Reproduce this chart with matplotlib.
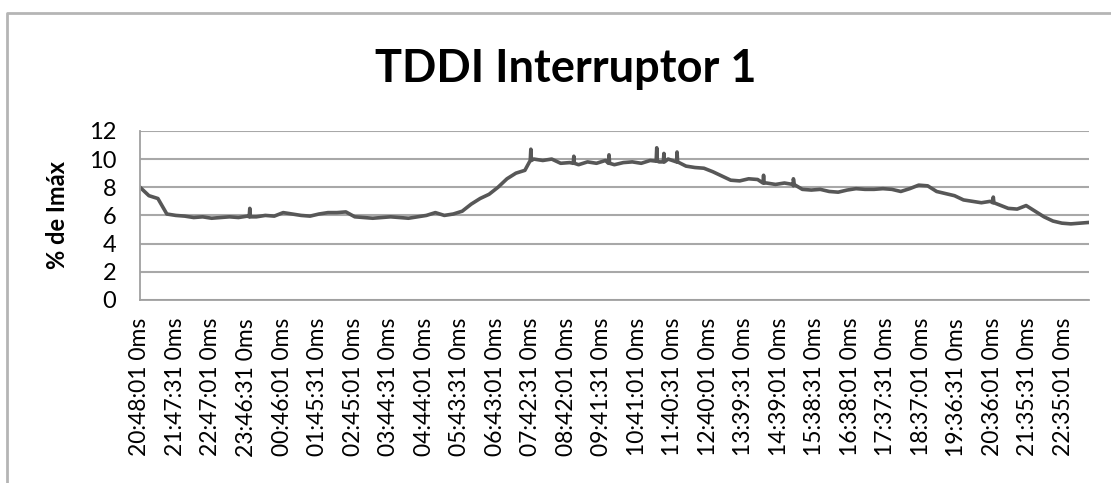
import matplotlib
matplotlib.use("Agg")
import matplotlib.pyplot as plt
from matplotlib.lines import Line2D
import numpy as np

# Serie: un valor cada 15 minutos desde 20:48:01
paso_min = 15
valores = [
    8.0, 7.4, 7.2, 6.1, 6.0, 5.95, 5.85, 5.9, 5.8, 5.85,
    5.9, 5.85, 5.95, 5.9, 6.0, 5.95, 6.2, 6.1, 6.0, 5.95,
    6.1, 6.2, 6.2, 6.25, 5.9, 5.85, 5.8, 5.85, 5.9, 5.85,
    5.8, 5.9, 6.0, 6.2, 6.0, 6.1, 6.3, 6.8, 7.2, 7.5,
    8.0, 8.6, 9.0, 9.2, 10.0, 9.9, 10.0, 9.7, 9.75, 9.6,
    9.8, 9.7, 9.9, 9.6, 9.75, 9.8, 9.7, 9.9, 9.8, 10.0,
    9.8, 9.5, 9.4, 9.35, 9.1, 8.8, 8.5, 8.45, 8.6, 8.55,
    8.3, 8.2, 8.3, 8.1, 7.85, 7.8, 7.85, 7.7, 7.65, 7.8,
    7.9, 7.85, 7.85, 7.9, 7.85, 7.7, 7.9, 8.15, 8.1, 7.7,
    7.55, 7.4, 7.1, 7.0, 6.9, 7.0, 6.75, 6.5, 6.45, 6.7,
    6.3, 5.9, 5.6, 5.45, 5.4, 5.45, 5.5,
]
# picos estrechos visibles: minuto, valor de base, valor del pico
picos_t = [184, 655, 727, 786, 866, 878, 900, 1045, 1095, 1430]
picos_base = [5.9, 9.9, 9.7, 9.7, 9.85, 9.8, 9.8, 8.3, 8.2, 6.9]
picos_v = [6.5, 10.7, 10.2, 10.3, 10.8, 10.4, 10.5, 8.85, 8.6, 7.3]

etiquetas = [
    "20:48:01 0ms", "21:47:31 0ms", "22:47:01 0ms", "23:46:31 0ms",
    "00:46:01 0ms", "01:45:31 0ms", "02:45:01 0ms", "03:44:31 0ms",
    "04:44:01 0ms", "05:43:31 0ms", "06:43:01 0ms", "07:42:31 0ms",
    "08:42:01 0ms", "09:41:31 0ms", "10:41:01 0ms", "11:40:31 0ms",
    "12:40:01 0ms", "13:39:31 0ms", "14:39:01 0ms", "15:38:31 0ms",
    "16:38:01 0ms", "17:37:31 0ms", "18:37:01 0ms", "19:36:31 0ms",
    "20:36:01 0ms", "21:35:31 0ms", "22:35:01 0ms",
]
paso_etiq = 59.5  # minutos entre etiquetas

t = list(np.arange(len(valores)) * paso_min)
v = list(valores)
for tp, b, p in zip(picos_t, picos_base, picos_v):
    t += [tp - 1, tp, tp + 1]
    v += [b, p, b]
t = np.array(t, dtype=float)
v = np.array(v, dtype=float)
orden = np.argsort(t, kind="stable")
t, v = t[orden], v[orden]

plt.rcParams['font.family'] = ['Lato', 'DejaVu Sans']

fig = plt.figure(figsize=(11.11, 4.83), dpi=100)
ax = fig.add_axes([0.126, 0.379, 0.854, 0.350])

ax.plot(t, v, color="#575757", lw=2.6, solid_joinstyle="round")

ax.set_ylim(0, 12)
ax.set_yticks(range(0, 13, 2))
ax.set_xlim(0, t.max())
ax.set_xticks(np.arange(len(etiquetas)) * paso_etiq)
ax.set_xticklabels(etiquetas, rotation=90, fontsize=16.5)
ax.tick_params(axis="y", labelsize=17, length=0, pad=17)
ax.tick_params(axis="x", length=0, pad=13)
ax.grid(axis="y", color="#a8a8a8", lw=1.5)
ax.set_axisbelow(True)
for s in ["top", "right"]:
    ax.spines[s].set_visible(False)
for s in ["left", "bottom"]:
    ax.spines[s].set_color("#a0a0a0")
    ax.spines[s].set_linewidth(1.3)

ax.set_ylabel("% de Imáx", fontsize=17, fontweight="bold", labelpad=14)
fig.text(0.509, 0.858, "TDDI Interruptor 1", ha="center", va="center",
         fontsize=32.5, fontweight="bold")

# marco exterior del gráfico
fig.add_artist(Line2D([7 / 1111, 7 / 1111, 1], [0, 1 - 13 / 483, 1 - 13 / 483],
                      transform=fig.transFigure, color="#b5b5b5", lw=2))

fig.savefig("out.png", dpi=100)
